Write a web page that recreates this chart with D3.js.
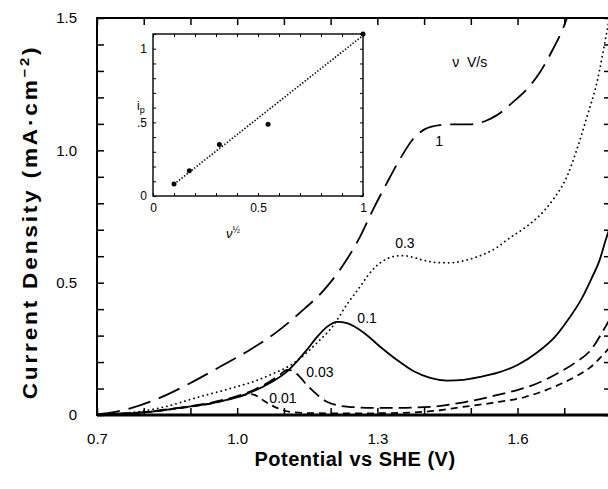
<!DOCTYPE html>
<html lang="en">
<head>
  <meta charset="UTF-8">
  <title>Current density vs potential</title>
  <script src="https://d3js.org/d3.v7.min.js"></script>
  <style>
    body { margin: 0; background: #fff; }
    svg { display: block; font-family: "Liberation Sans", Arial, sans-serif; }
    .axis line { stroke: #000; }
    .axis path { display: none; }
    .axis text { fill: #000; }
    .main-axis text { font-size: 15px; }
    .inset-axis text { font-size: 12px; }
    .title { font-size: 20px; font-weight: bold; }
    .curve { fill: none; stroke: #000; stroke-width: 1.8; }
    .lbl { font-size: 14px; }
  </style>
</head>
<body>
  <svg width="608" height="489"></svg>

  <script>
    // sweeps at each scan rate: [potential (V vs SHE), current density (mA/cm2)]
    const scanRates = ['1', '0.3', '0.1', '0.03', '0.01'];

    const sweep1 = [[0.70,0.003],[0.74,0.012],[0.771,0.025],[0.833,0.064],[0.899,0.12],[0.963,0.182],
      [1.027,0.246],[1.085,0.314],[1.134,0.386],[1.186,0.473],[1.22,0.549],[1.263,0.674],[1.291,0.777],
      [1.321,0.879],[1.348,0.966],[1.376,1.042],[1.402,1.08],[1.434,1.095],[1.466,1.098],[1.498,1.098],
      [1.53,1.11],[1.556,1.133],[1.59,1.182],[1.62,1.231],[1.648,1.295],[1.676,1.383],[1.695,1.451],[1.712,1.53]];

    const sweep03 = [[0.70,0.001],[0.749,0.005],[0.843,0.030],[0.914,0.066],[0.985,0.100],[1.036,0.127],
      [1.079,0.158],[1.113,0.187],[1.128,0.205],[1.171,0.273],[1.207,0.341],[1.235,0.418],[1.263,0.485],
      [1.278,0.523],[1.295,0.558],[1.316,0.586],[1.333,0.598],[1.355,0.602],[1.376,0.596],[1.398,0.585],
      [1.428,0.576],[1.455,0.575],[1.483,0.582],[1.509,0.595],[1.535,0.613],[1.556,0.633],[1.58,0.665],
      [1.616,0.708],[1.642,0.745],[1.676,0.814],[1.706,0.902],[1.727,1.004],[1.749,1.129],[1.770,1.258],
      [1.791,1.447],[1.8,1.53]];

    const sweep01 = [[0.70,0.002],[0.807,0.011],[0.878,0.027],[0.95,0.046],[1.015,0.076],[1.07,0.121],
      [1.107,0.165],[1.128,0.203],[1.149,0.246],[1.171,0.295],[1.192,0.333],[1.214,0.352],[1.235,0.347],
      [1.271,0.311],[1.306,0.258],[1.342,0.208],[1.378,0.165],[1.413,0.140],[1.449,0.130],[1.485,0.133],
      [1.52,0.144],[1.558,0.16],[1.601,0.19],[1.644,0.239],[1.68,0.295],[1.708,0.36],[1.736,0.436],
      [1.757,0.511],[1.776,0.587],[1.789,0.663],[1.8,0.72]];

    const sweep003 = [[0.70,0.002],[0.807,0.012],[0.878,0.028],[0.95,0.049],[1.015,0.08],[1.06,0.116],
      [1.09,0.15],[1.107,0.17],[1.118,0.168],[1.128,0.155],[1.149,0.114],[1.171,0.077],[1.192,0.05],
      [1.22,0.035],[1.256,0.029],[1.293,0.027],[1.342,0.027],[1.413,0.031],[1.485,0.048],[1.558,0.076],
      [1.601,0.095],[1.644,0.121],[1.687,0.159],[1.723,0.197],[1.757,0.246],[1.787,0.33],[1.8,0.37]];

    const sweep001 = [[0.70,0.002],[0.807,0.011],[0.878,0.026],[0.95,0.046],[1.0,0.067],[1.027,0.079],
      [1.042,0.072],[1.057,0.054],[1.085,0.027],[1.113,0.012],[1.16,0.007],[1.25,0.006],[1.35,0.008],
      [1.434,0.018],[1.473,0.028],[1.543,0.045],[1.616,0.068],[1.672,0.102],[1.723,0.144],[1.757,0.182],
      [1.789,0.239],[1.8,0.26]];

    const xTickLabels = [0.7, 1.0, 1.3, 1.6];
    const yTickLabels = [0, 0.5, 1.0, 1.5];

    // inset: peak current vs square root of scan rate
    const sqrtRate = [0.1, 0.173, 0.316, 0.548, 1.0];
    const peakCurrent = [0.081, 0.171, 0.35, 0.487, 1.1];
    const fitLine = [[0.1, 0.08], [1.0, 1.09]];

    const svg = d3.select('svg');

    const x = d3.scaleLinear().domain([0.7, 1.8]).range([97, 611]);
    const y = d3.scaleLinear().domain([0, 1.5]).range([415, 18]);

    const xTicks = d3.range(7, 19).map(d => d / 10);
    const yTicks = d3.range(0, 16).map(d => d / 10);
    const has = (arr, d) => arr.some(t => Math.abs(t - d) < 1e-9);

    svg.append('g').attr('class', 'axis main-axis')
      .attr('transform', 'translate(0,415)')
      .call(d3.axisBottom(x).tickValues(xTicks).tickSizeInner(-7).tickSizeOuter(0).tickPadding(18)
        .tickFormat(d => has(xTickLabels, d) ? d3.format('.1f')(d) : ''))
      .selectAll('line').attr('stroke-width', 1.5);

    svg.append('g').attr('class', 'axis main-axis')
      .attr('transform', 'translate(97,0)')
      .call(d3.axisLeft(y).tickValues(yTicks).tickSizeInner(-7).tickSizeOuter(0).tickPadding(20)
        .tickFormat(d => !has(yTickLabels, d) ? '' : d === 0 ? '0' : d3.format('.1f')(d)))
      .selectAll('line').attr('stroke-width', 1.5);

    svg.append('g').attr('class', 'axis main-axis')
      .attr('transform', 'translate(0,18)')
      .call(d3.axisTop(x).tickValues(xTicks).tickSizeInner(-7).tickSizeOuter(0).tickFormat(''))
      .selectAll('line').attr('stroke-width', 1.5);

    svg.append('g').attr('class', 'axis main-axis')
      .attr('transform', 'translate(611,0)')
      .call(d3.axisRight(y).tickValues(yTicks).tickSizeInner(-7).tickSizeOuter(0).tickFormat(''))
      .selectAll('line').attr('stroke-width', 1.5);

    // frame
    svg.append('rect')
      .attr('x', 97).attr('y', 18).attr('width', 514).attr('height', 397)
      .attr('fill', 'none').attr('stroke', '#000').attr('stroke-width', 2);
    svg.append('line')
      .attr('x1', 97).attr('x2', 611).attr('y1', 415).attr('y2', 415)
      .attr('stroke', '#000').attr('stroke-width', 3);

    svg.append('clipPath').attr('id', 'plot')
      .append('rect').attr('x', 97).attr('y', 18).attr('width', 514).attr('height', 397);

    const line = d3.line()
      .x(d => x(d[0]))
      .y(d => y(d[1]))
      .curve(d3.curveMonotoneX);

    const sweeps = [sweep1, sweep03, sweep01, sweep003, sweep001];
    const dashes = ['23,9', '0.1,4.6', null, '13,6', '7,5'];

    const curves = svg.append('g').attr('clip-path', 'url(#plot)');
    curves.selectAll('path')
      .data(sweeps)
      .join('path')
      .attr('class', 'curve')
      .attr('d', line)
      .attr('stroke-width', (_, i) => i === 1 ? 2 : 1.8)
      .attr('stroke-linecap', (_, i) => i === 1 ? 'round' : 'butt')
      .attr('stroke-dasharray', (_, i) => dashes[i]);

    // curve labels, placed in data units
    const labelAt = [[1.432, 1.034], [1.359, 0.648], [1.278, 0.367], [1.177, 0.163], [1.098, 0.064]];
    svg.selectAll('.lbl.rate')
      .data(scanRates)
      .join('text')
      .attr('class', 'lbl rate')
      .attr('x', (_, i) => x(labelAt[i][0]))
      .attr('y', (_, i) => y(labelAt[i][1]))
      .attr('dy', '0.35em')
      .attr('text-anchor', 'middle')
      .text(d => d);

    svg.append('text').attr('class', 'lbl')
      .attr('x', x(1.46)).attr('y', y(1.333)).attr('dy', '0.35em')
      .attr('xml:space', 'preserve')
      .text('\u03BD  V/s');

    // axis titles
    svg.append('text').attr('class', 'title')
      .attr('x', 355).attr('y', 466)
      .attr('text-anchor', 'middle')
      .attr('letter-spacing', 0.5)
      .text('Potential vs SHE (V)');

    const yTitle = svg.append('text').attr('class', 'title')
      .attr('transform', 'translate(37,222) rotate(-90) scale(1.13,1)')
      .attr('letter-spacing', 2.5)
      .attr('text-anchor', 'middle');
    yTitle.append('tspan').text('Current Density (mA\u00B7cm');
    yTitle.append('tspan').attr('dy', -8).attr('font-size', 13).text('\u22122');
    yTitle.append('tspan').attr('dy', 8).text(')');

    // inset
    const ix = d3.scaleLinear().domain([0, 1]).range([153, 363]);
    const iy = d3.scaleLinear().domain([0, 1.1]).range([196, 34]);
    const inset = svg.append('g');

    inset.append('rect')
      .attr('x', 153).attr('y', 34).attr('width', 210).attr('height', 162)
      .attr('fill', '#fff').attr('stroke', '#000').attr('stroke-width', 1.4);

    const ixTicks = d3.range(0, 11).map(d => d / 10);
    const iyTicks = d3.range(0, 12).map(d => d / 10);

    inset.append('g').attr('class', 'axis inset-axis')
      .attr('transform', 'translate(0,196)')
      .call(d3.axisBottom(ix).tickValues(ixTicks).tickSizeInner(-3).tickSizeOuter(0).tickPadding(7)
        .tickFormat(d => d === 0 ? '0' : d === 0.5 ? '0.5' : d === 1 ? '1' : ''));
    inset.append('g').attr('class', 'axis inset-axis')
      .attr('transform', 'translate(153,0)')
      .call(d3.axisLeft(iy).tickValues(iyTicks).tickSizeInner(-3).tickSizeOuter(0).tickPadding(6)
        .tickFormat(d => d === 0 ? '0' : d === 0.5 ? '.5' : d === 1 ? '1' : ''));
    inset.append('g').attr('class', 'axis inset-axis')
      .attr('transform', 'translate(0,34)')
      .call(d3.axisTop(ix).tickValues(ixTicks).tickSizeInner(-3).tickSizeOuter(0).tickFormat(''));
    inset.append('g').attr('class', 'axis inset-axis')
      .attr('transform', 'translate(363,0)')
      .call(d3.axisRight(iy).tickValues(iyTicks).tickSizeInner(-3).tickSizeOuter(0).tickFormat(''));

    inset.append('path')
      .datum(fitLine)
      .attr('fill', 'none').attr('stroke', '#000').attr('stroke-width', 1.6)
      .attr('stroke-dasharray', '1.4,1.8')
      .attr('d', d3.line().x(d => ix(d[0])).y(d => iy(d[1])));

    inset.selectAll('circle')
      .data(sqrtRate)
      .join('circle')
      .attr('cx', d => ix(d))
      .attr('cy', (_, i) => iy(peakCurrent[i]))
      .attr('r', 2.5)
      .attr('fill', '#000');

    const ip = inset.append('text').attr('x', 137).attr('y', 110).attr('font-size', 12);
    ip.append('tspan').text('i');
    ip.append('tspan').attr('dy', 3).attr('font-size', 9).text('p');

    const nu = inset.append('text').attr('x', 226).attr('y', 238).attr('font-size', 13).attr('font-style', 'italic');
    nu.append('tspan').text('\u03BD');
    nu.append('tspan').attr('dy', -5).attr('font-size', 9).attr('font-style', 'normal').text('\u00BD');
  </script>
</body>
</html>
